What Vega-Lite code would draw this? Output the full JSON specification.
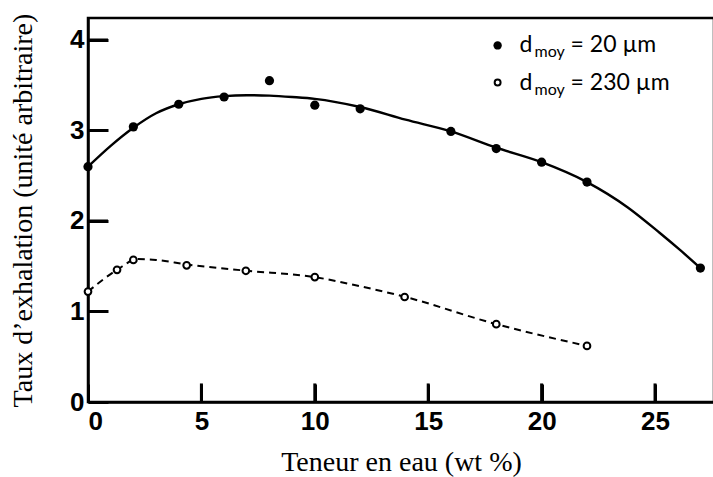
{
  "$schema": "https://vega.github.io/schema/vega-lite/v6.json",
  "width": 626,
  "height": 384,
  "autosize": "none",
  "padding": {"left": 88, "top": 18, "right": 0, "bottom": 75},
  "background": "white",
  "config": {
    "view": {"stroke": "black", "strokeWidth": 2.5, "fill": null},
    "axis": {
      "domainColor": "black",
      "domainWidth": 2.5,
      "ticks": true,
      "tickColor": "black",
      "tickWidth": 3,
      "grid": false,
      "labelFont": "Liberation Sans",
      "labelFontWeight": "bold",
      "labelFontSize": 26,
      "labelColor": "black",
      "titleFont": "Liberation Serif",
      "titleFontWeight": "normal",
      "titleFontSize": 28,
      "titleColor": "black"
    },
    "axisX": {"tickSize": -18, "labelPadding": 24, "titlePadding": 14},
    "axisY": {"tickSize": -20, "labelPadding": 24, "titlePadding": 32}
  },
  "datasets": {
    "fit": [
      {"s": "20", "x": 0, "y": 2.60},
      {"s": "20", "x": 1, "y": 2.83},
      {"s": "20", "x": 2, "y": 3.03},
      {"s": "20", "x": 3, "y": 3.19},
      {"s": "20", "x": 4, "y": 3.29},
      {"s": "20", "x": 5, "y": 3.35},
      {"s": "20", "x": 6, "y": 3.38},
      {"s": "20", "x": 7, "y": 3.39},
      {"s": "20", "x": 8, "y": 3.385},
      {"s": "20", "x": 9, "y": 3.37},
      {"s": "20", "x": 10, "y": 3.35},
      {"s": "20", "x": 12, "y": 3.26},
      {"s": "20", "x": 14, "y": 3.12},
      {"s": "20", "x": 16, "y": 2.99},
      {"s": "20", "x": 18, "y": 2.81},
      {"s": "20", "x": 20, "y": 2.65},
      {"s": "20", "x": 22, "y": 2.43},
      {"s": "20", "x": 23.8, "y": 2.15},
      {"s": "20", "x": 25.2, "y": 1.87},
      {"s": "20", "x": 26.1, "y": 1.68},
      {"s": "20", "x": 27, "y": 1.48},
      {"s": "230", "x": 0, "y": 1.22},
      {"s": "230", "x": 1.28, "y": 1.46},
      {"s": "230", "x": 2.2, "y": 1.58},
      {"s": "230", "x": 3, "y": 1.57},
      {"s": "230", "x": 4.35, "y": 1.52},
      {"s": "230", "x": 7, "y": 1.45},
      {"s": "230", "x": 10, "y": 1.38},
      {"s": "230", "x": 11.8, "y": 1.29},
      {"s": "230", "x": 14, "y": 1.16},
      {"s": "230", "x": 18, "y": 0.86},
      {"s": "230", "x": 22, "y": 0.62}
    ],
    "obs": [
      {"s": "20", "x": 0, "y": 2.60},
      {"s": "20", "x": 2, "y": 3.04},
      {"s": "20", "x": 4, "y": 3.29},
      {"s": "20", "x": 6, "y": 3.37},
      {"s": "20", "x": 8, "y": 3.55},
      {"s": "20", "x": 10, "y": 3.28},
      {"s": "20", "x": 12, "y": 3.24},
      {"s": "20", "x": 16, "y": 2.99},
      {"s": "20", "x": 18, "y": 2.80},
      {"s": "20", "x": 20, "y": 2.65},
      {"s": "20", "x": 22, "y": 2.43},
      {"s": "20", "x": 27, "y": 1.48},
      {"s": "230", "x": 0, "y": 1.22},
      {"s": "230", "x": 1.28, "y": 1.46},
      {"s": "230", "x": 2, "y": 1.57},
      {"s": "230", "x": 4.35, "y": 1.51},
      {"s": "230", "x": 6.96, "y": 1.45},
      {"s": "230", "x": 10, "y": 1.38},
      {"s": "230", "x": 13.96, "y": 1.16},
      {"s": "230", "x": 18, "y": 0.86},
      {"s": "230", "x": 22, "y": 0.62}
    ],
    "xticks": [{"v": 5}, {"v": 10}, {"v": 15}, {"v": 20}, {"v": 25}],
    "yticks": [{"v": 1}, {"v": 2}, {"v": 3}, {"v": 4}]
  },
  "layer": [
    {
      "data": {"name": "fit"},
      "transform": [{"filter": "datum.s === '20'"}],
      "mark": {"type": "line", "color": "black", "strokeWidth": 2.4, "interpolate": "monotone"},
      "encoding": {
        "x": {"field": "x", "type": "quantitative", "scale": {"domain": [0, 27.6], "nice": false, "zero": false},
          "axis": {"values": [0, 5, 10, 15, 20, 25], "format": "d"}, "title": "Teneur en eau (wt %)"},
        "y": {"field": "y", "type": "quantitative", "scale": {"domain": [0, 4.243], "nice": false, "zero": false},
          "axis": {"values": [0, 1, 2, 3, 4], "format": "d"}, "title": "Taux d’exhalation (unité arbitraire)"}
      }
    },
    {
      "data": {"name": "fit"},
      "transform": [{"filter": "datum.s === '230'"}],
      "mark": {"type": "line", "color": "black", "strokeWidth": 2, "strokeDash": [7, 5], "interpolate": "monotone"},
      "encoding": {
        "x": {"field": "x", "type": "quantitative", "title": "Teneur en eau (wt %)", "axis": {"format": "d"}},
        "y": {"field": "y", "type": "quantitative", "title": "Taux d’exhalation (unité arbitraire)", "axis": {"format": "d"}}
      }
    },
    {
      "data": {"name": "xticks"},
      "mark": {"type": "tick", "color": "black", "thickness": 3, "size": 19, "orient": "vertical", "opacity": 1},
      "encoding": {
        "x": {"field": "v", "type": "quantitative", "title": "Teneur en eau (wt %)", "axis": {"format": "d"}},
        "y": {"datum": 0.1, "type": "quantitative", "title": "Taux d’exhalation (unité arbitraire)", "axis": {"format": "d"}}
      }
    },
    {
      "data": {"name": "yticks"},
      "mark": {"type": "tick", "color": "black", "thickness": 3, "size": 20, "orient": "horizontal", "opacity": 1},
      "encoding": {
        "y": {"field": "v", "type": "quantitative", "title": "Taux d’exhalation (unité arbitraire)", "axis": {"format": "d"}},
        "x": {"datum": 0.44, "type": "quantitative", "title": "Teneur en eau (wt %)", "axis": {"format": "d"}}
      }
    },
    {
      "data": {"name": "obs"},
      "transform": [{"filter": "datum.s === '20'"}],
      "mark": {"type": "point", "shape": "circle", "filled": true, "color": "black", "size": 85, "opacity": 1},
      "encoding": {
        "x": {"field": "x", "type": "quantitative", "title": "Teneur en eau (wt %)", "axis": {"format": "d"}},
        "y": {"field": "y", "type": "quantitative", "title": "Taux d’exhalation (unité arbitraire)", "axis": {"format": "d"}}
      }
    },
    {
      "data": {"name": "obs"},
      "transform": [{"filter": "datum.s === '230'"}],
      "mark": {"type": "point", "shape": "circle", "fill": "white", "stroke": "black", "strokeWidth": 2, "size": 45, "opacity": 1, "fillOpacity": 1},
      "encoding": {
        "x": {"field": "x", "type": "quantitative", "title": "Teneur en eau (wt %)", "axis": {"format": "d"}},
        "y": {"field": "y", "type": "quantitative", "title": "Taux d’exhalation (unité arbitraire)", "axis": {"format": "d"}}
      }
    },
    {
      "data": {"values": [{"label": "= 20 µm"}, {"label": "= 230 µm"}]},
      "encoding": {
        "x": {"datum": 18.06, "type": "quantitative", "title": "Teneur en eau (wt %)", "axis": {"format": "d"}},
        "y": {"datum": 3.94, "type": "quantitative", "title": "Taux d’exhalation (unité arbitraire)", "axis": {"format": "d"}}
      },
      "layer": [
        {"transform": [{"filter": "datum.label === '= 20 µm'"}],
         "mark": {"type": "point", "shape": "circle", "filled": true, "color": "black", "size": 70, "opacity": 1}},
        {"transform": [{"filter": "datum.label === '= 20 µm'"}],
         "mark": {"type": "text", "text": "d", "align": "left", "baseline": "alphabetic", "dx": 22, "dy": 7, "font": "Lato", "fontSize": 23, "color": "black"}},
        {"transform": [{"filter": "datum.label === '= 20 µm'"}],
         "mark": {"type": "text", "text": "moy", "align": "left", "baseline": "alphabetic", "dx": 37, "dy": 12, "font": "Lato", "fontSize": 16, "color": "black"}},
        {"transform": [{"filter": "datum.label === '= 20 µm'"}],
         "mark": {"type": "text", "align": "left", "baseline": "alphabetic", "dx": 73, "dy": 7, "font": "Lato", "fontSize": 23, "color": "black"},
         "encoding": {"text": {"field": "label"}}}
      ]
    },
    {
      "data": {"values": [{"label": "= 20 µm"}, {"label": "= 230 µm"}]},
      "encoding": {
        "x": {"datum": 18.06, "type": "quantitative", "title": "Teneur en eau (wt %)", "axis": {"format": "d"}},
        "y": {"datum": 3.53, "type": "quantitative", "title": "Taux d’exhalation (unité arbitraire)", "axis": {"format": "d"}}
      },
      "layer": [
        {"transform": [{"filter": "datum.label === '= 230 µm'"}],
         "mark": {"type": "point", "shape": "circle", "fill": "white", "stroke": "black", "strokeWidth": 2, "size": 35, "opacity": 1, "fillOpacity": 1}},
        {"transform": [{"filter": "datum.label === '= 230 µm'"}],
         "mark": {"type": "text", "text": "d", "align": "left", "baseline": "alphabetic", "dx": 22, "dy": 7, "font": "Lato", "fontSize": 23, "color": "black"}},
        {"transform": [{"filter": "datum.label === '= 230 µm'"}],
         "mark": {"type": "text", "text": "moy", "align": "left", "baseline": "alphabetic", "dx": 37, "dy": 12, "font": "Lato", "fontSize": 16, "color": "black"}},
        {"transform": [{"filter": "datum.label === '= 230 µm'"}],
         "mark": {"type": "text", "align": "left", "baseline": "alphabetic", "dx": 73, "dy": 7, "font": "Lato", "fontSize": 23, "color": "black"},
         "encoding": {"text": {"field": "label"}}}
      ]
    }
  ]
}
